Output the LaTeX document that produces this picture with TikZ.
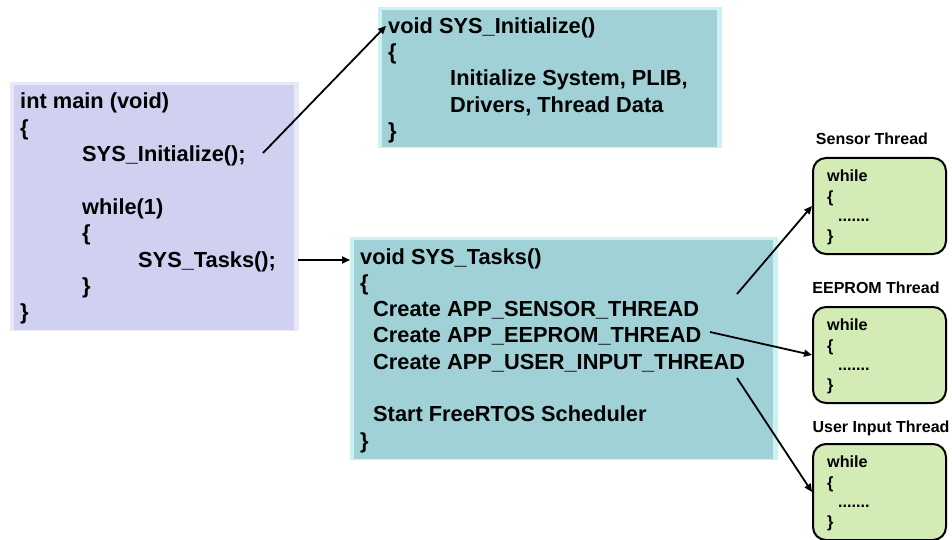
\documentclass[tikz,border=0pt]{standalone}
\usepackage{fontspec}
\setmainfont{Liberation Sans}
\usetikzlibrary{arrows.meta}
\definecolor{lav}{HTML}{D0D0F0}
\definecolor{lavlight}{HTML}{E8E8FA}
\definecolor{teal2}{HTML}{A0D1D6}
\definecolor{teallight}{HTML}{CDF0F3}
\definecolor{thrgreen}{HTML}{D3EBB5}
\begin{document}
\begin{tikzpicture}[x=1pt,y=-1pt,
  code/.style={anchor=base west, inner sep=0pt, font=\fontsize{21.8}{26}\selectfont\bfseries},
  small/.style={anchor=base west, inner sep=0pt, font=\fontsize{16.2}{20}\selectfont\bfseries},
  lbl/.style={inner sep=0pt, font=\fontsize{16}{20}\selectfont\bfseries},
  arr/.style={line width=1.8pt, -{Triangle[length=8pt,width=7pt]}},
  panel/.style={anchor=north west, inner sep=0pt, outer sep=0pt},
  thread/.style={anchor=north west, draw=black, line width=2pt, fill=thrgreen, rounded corners=13pt, inner sep=0pt, minimum width=133pt, minimum height=96pt}]
\fill[white] (0,0) rectangle (952,540);
\useasboundingbox (0,0) rectangle (952,540);

% main box
\node[panel, fill=lavlight, minimum width=289pt, minimum height=249pt] (mainbox) at (10,82) {};
\fill[lav] (14,85) rectangle (294,330);
% init box
\node[panel, fill=teallight, minimum width=344pt, minimum height=141pt] (initbox) at (378,7) {};
\fill[teal2] (382,10) rectangle (717,147);
% tasks box
\node[panel, fill=teallight, minimum width=428pt, minimum height=223pt] (tasksbox) at (350,237) {};
\fill[teal2] (354,240) rectangle (773,459);

% main text
\node[code] (m1) at (20,109) {int main (void)};
\node[code] (m2) at (20,135.3) {\{};
\node[code] (callinit) at (82,161.6) {SYS\_Initialize();};
\node[code] (m4) at (82,214) {while(1)};
\node[code] (m5) at (82,240.5) {\{};
\node[code] (calltasks) at (138,267) {SYS\_Tasks();};
\node[code] (m7) at (82,293) {\}};
\node[code] (m8) at (20,319.5) {\}};

% init text
\node[code] (initsig) at (388,33.5) {void SYS\_Initialize()};
\node[code] (i2) at (388,59.8) {\{};
\node[code] (i3) at (450,86) {Initialize System, PLIB,};
\node[code] (i4) at (450,112.3) {Drivers, Thread Data};
\node[code] (i5) at (388,138.6) {\}};

% tasks text
\node[code] (tasksig) at (360,264) {void SYS\_Tasks()};
\node[code] (t2) at (360,290.3) {\{};
\node[code] (crsensor) at (373,316.6) {Create APP\_SENSOR\_THREAD};
\node[code] (creeprom) at (373,342.9) {Create APP\_EEPROM\_THREAD};
\node[code] (cruser) at (373,369.2) {Create APP\_USER\_INPUT\_THREAD};
\node[code] (sched) at (373,421.8) {Start FreeRTOS Scheduler};
\node[code] (t7) at (360,448.1) {\}};

% thread boxes
\node[thread] (sensorbox) at (812,157) {};
\node[thread] (eeprombox) at (812,306) {};
\node[thread] (userbox) at (812,443) {};
\node[lbl] (sensorlbl) at (872,139) {Sensor Thread};
\node[lbl] (eepromlbl) at (876,288) {EEPROM Thread};
\node[lbl] (userlbl) at (881,428) {User Input Thread};

\foreach \n/\t in {s/157, e/306, u/443}{
  \node[small] (\n w) at (827,\t+24.5) {while};
  \node[small] (\n b) at (827,\t+45) {\{};
  \node[small] (\n d) at (838,\t+64.5) {.......};
  \node[small] (\n c) at (827,\t+84) {\}};
}

% connectors
\coordinate (a1s) at (263,153);
\coordinate (a2s) at (298,260);
\coordinate (a3s) at (737,294);
\coordinate (a4s) at (710,332);
\coordinate (a5s) at (737,378);
\draw[arr] (a1s) -- ([xshift=-2pt,yshift=2pt]initsig.west);
\draw[arr] (a2s) -- (a2s -| tasksbox.west);
\draw[arr] (a3s) -- (sensorbox.west);
\draw[arr] (a4s) -- (eeprombox.west);
\draw[arr] (a5s) -- (userbox.west);
\end{tikzpicture}
\end{document}
